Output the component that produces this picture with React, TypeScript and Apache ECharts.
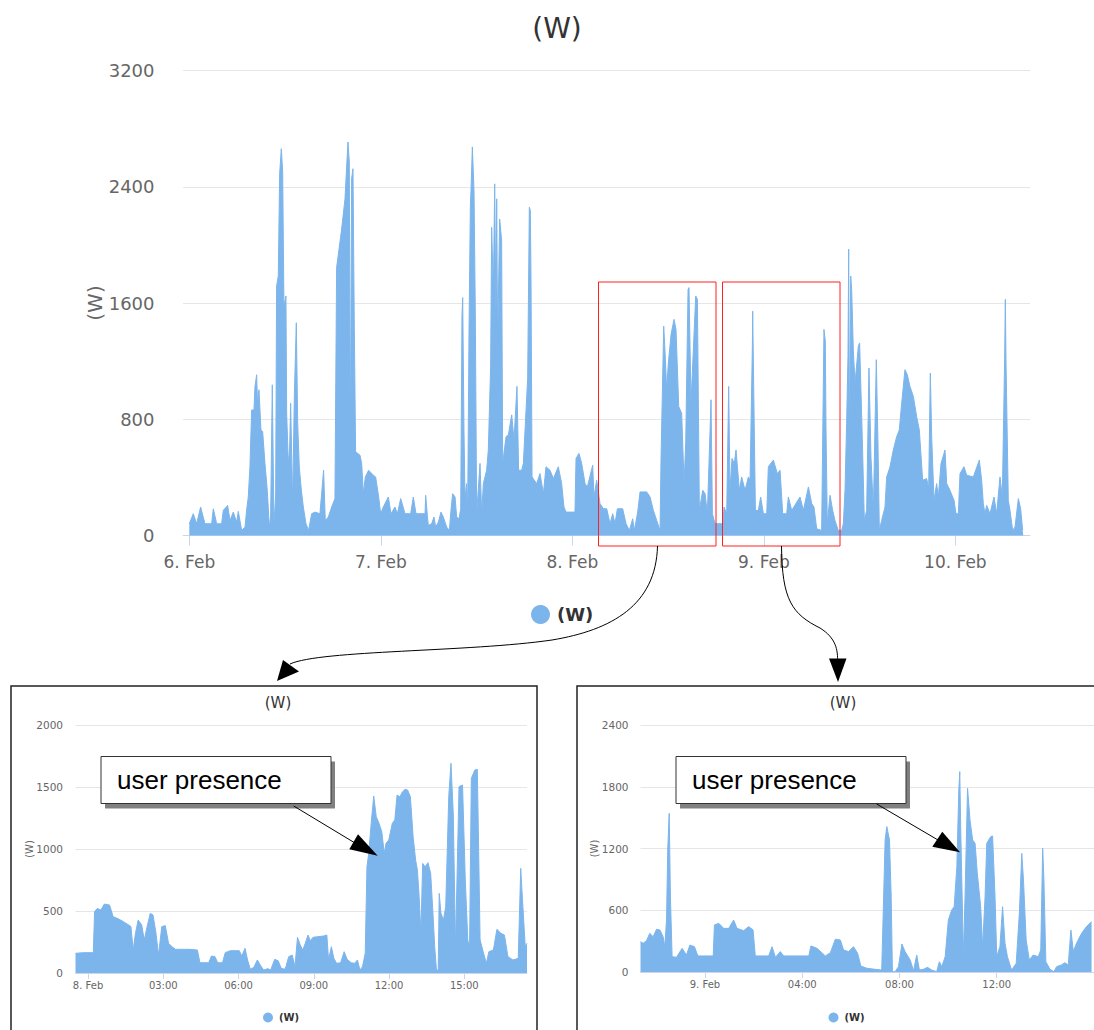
import React, { useEffect, useRef } from "react";
import * as echarts from "echarts";

const FONT = "DejaVu Sans";
const BLUE = "#7cb5ec";

// Main chart: hours since 6 Feb 00:00 and power in W
const mainHours = [
  0.0, 0.5, 0.92, 1.42, 1.96, 2.8, 3.01, 3.43, 4.05, 4.26, 4.8, 5.1, 5.51, 5.93, 6.14, 6.56, 6.98, 7.18, 7.39, 7.6,
  7.81, 8.1, 8.23, 8.44, 8.56, 8.73, 8.98, 9.19, 9.48, 9.77, 10.03, 10.19, 10.4, 10.61, 10.82, 10.94, 11.15, 11.32, 11.53, 11.7,
  11.86, 12.11, 12.2, 12.41, 12.57, 12.7, 12.95, 13.16, 13.41, 13.58, 13.78, 14.04, 14.29, 14.62, 14.95, 15.33, 15.75, 16.37, 16.83, 17.04,
  17.42, 17.84, 18.25, 18.46, 19.09, 19.51, 19.88, 20.05, 20.18, 20.34, 20.51, 20.68, 20.84, 21.39, 21.6, 21.81, 22.06, 22.47, 23.06, 23.35,
  23.73, 23.98, 24.31, 24.94, 25.27, 25.77,
  26.07, 26.49, 27.03, 27.74, 28.07, 28.41, 29.54, 29.62, 29.83, 29.95, 30.37, 30.66, 30.87, 31.21, 31.54, 31.83, 32.25, 32.59, 32.79, 33.0,
  33.3, 33.5, 33.8, 34.01, 34.17, 34.26, 34.42, 34.55, 34.76, 34.88, 35.05, 35.22, 35.3, 35.47, 35.68, 35.84, 36.01, 36.43, 36.64, 36.85,
  37.26, 37.47, 37.76, 37.89, 38.1, 38.27, 38.43, 38.52, 38.64, 38.89, 39.14, 39.27, 39.69, 39.98, 40.4, 40.69, 41.06, 41.27, 41.65, 41.86,
  42.4, 42.61, 42.74, 42.82, 42.95, 43.53, 43.95, 44.37, 44.7, 45.2, 45.62, 46.24, 46.66, 46.95, 47.21, 48.33, 48.46, 48.83, 49.17, 49.59,
  49.88, 50.55, 50.71, 51.05, 51.47,
  51.89, 52.31, 52.72, 53.06, 53.35, 53.64, 54.31, 54.73, 55.15, 55.56, 55.77, 56.19, 56.48, 57.32, 57.74, 58.15, 58.57, 58.99, 59.11, 59.45,
  59.66, 59.82, 60.03, 60.37, 60.74, 60.99, 61.33, 61.7, 62.0, 62.21, 62.5, 62.62, 62.87, 63.46, 63.67, 63.92, 64.34, 64.63, 64.92, 65.38,
  65.55, 65.88, 66.84, 67.01, 67.34, 67.59, 67.76, 68.01, 68.3, 68.51, 68.93, 69.22, 69.64, 70.06, 70.27, 70.56, 70.6, 70.77, 70.94, 71.31,
  71.6, 71.94, 72.36, 72.56, 73.19, 73.69, 74.03, 74.36, 74.86, 75.07, 75.49, 76.53, 76.95, 77.58, 78.0,
  78.28, 78.62, 79.24, 79.53, 79.7, 79.79, 79.95, 80.29, 80.62, 80.91, 81.33, 81.75, 81.96, 82.17, 82.37, 82.54, 82.63, 82.71, 82.79, 82.88,
  83.0, 83.21, 83.42, 83.84, 84.0, 84.34, 84.59, 84.88, 85.17, 85.42, 85.72, 86.09, 86.3, 86.47, 86.76, 87.18, 87.39, 87.81, 88.22, 88.64,
  88.97, 89.27, 89.68, 89.98, 90.31, 90.73, 91.15, 91.48, 91.9, 92.4, 92.65, 92.86, 93.03, 93.32, 93.65, 93.86, 94.2, 94.7, 94.91, 95.32,
  95.83, 96.08, 96.37, 96.58, 97.08, 97.41, 98.25, 99.0, 99.29, 99.5, 99.71, 99.92, 100.34, 100.84, 101.17, 101.59, 101.88, 102.17, 102.26, 102.34,
  102.63, 102.84, 103.18, 103.47, 103.89, 104.18, 104.43, 104.51,
];
const mainWatts = [
  81, 150, 81, 196, 81, 81, 184, 81, 81, 173, 207, 104, 161, 92, 166, 35, 58, 173, 265, 473,
  864, 864, 1026, 1106, 887, 1003, 726, 715, 496, 311, 58, 127, 1037, 81, 265, 1717, 1786, 2489, 2662, 2501,
  1579, 1648, 841, 496, 588, 910, 219, 957, 1464, 772, 473, 311, 196, 81, 35, 150, 161, 150, 449, 104,
  127, 196, 254, 1844, 2109, 2317, 2708, 2570, 611, 2455, 2524, 1418, 576, 553, 496, 288, 403, 449, 415, 403,
  265, 150, 196, 265, 150, 196,
  150, 254, 150, 150, 265, 150, 150, 277, 138, 69, 81, 127, 58, 92, 161, 127, 58, 35, 173, 288,
  265, 127, 115, 184, 1510, 1637, 726, 265, 357, 150, 1406, 2270, 2374, 2674, 2363, 1533, 150, 496, 150, 357,
  449, 588, 1164, 2121, 1671, 2420, 1510, 2317, 1325, 2178, 2028, 496, 680, 692, 830, 657, 1026, 449, 449, 496,
  1083, 2259, 2236, 1763, 403, 357, 426, 288, 473, 449, 392, 473, 357, 196, 161, 161, 530, 565, 496, 357,
  334, 484, 265, 380, 219,
  184, 184, 81, 150, 81, 184, 184, 81, 35, 115, 35, 161, 300, 300, 265, 173, 104, 35, 519, 1441,
  1210, 1003, 1187, 1383, 1487, 1418, 887, 841, 357, 645, 1694, 1706, 910, 1648, 1625, 173, 311, 288, 150, 934,
  150, 81, 81, 196, 150, 1026, 311, 530, 496, 588, 311, 403, 311, 403, 380, 1302, 1544, 841, 173, 173,
  265, 150, 150, 473, 519, 426, 449, 150, 150, 265, 173, 265, 173, 334, 219,
  196, 46, 35, 1418, 1337, 726, 81, 277, 173, 104, 35, 35, 81, 311, 772, 1233, 1971, 496, 1233, 1786,
  1694, 1279, 1049, 1302, 1325, 657, 104, 173, 1153, 542, 173, 1210, 634, 35, 104, 196, 403, 473, 588, 680,
  726, 910, 1141, 1106, 1026, 957, 818, 726, 380, 392, 323, 1118, 680, 242, 357, 265, 496, 588, 357, 311,
  242, 150, 150, 426, 473, 415, 403, 519, 380, 219, 150, 207, 150, 265, 150, 403, 265, 1210, 1625, 1210,
  242, 173, 35, 58, 254, 184, 35, 35,
];
const mainDayTicks = [0, 24, 48, 72, 96];

// Inset 1: hours since 8 Feb 00:00
const feb8Hours = [
  -0.5, -0.18, 0.21, 0.26, 0.37, 0.51, 0.65, 0.86, 1.0, 1.2, 1.41, 1.62, 1.71, 1.8, 1.89, 2.0, 2.14, 2.24, 2.31, 2.48,
  2.59, 2.7, 2.81, 2.94, 3.08, 3.21, 3.35, 3.49, 3.7, 4.04, 4.36, 4.46, 4.81, 4.92, 5.06, 5.17, 5.36, 5.47, 5.67, 6.03,
  6.13, 6.26, 6.36, 6.47, 6.61, 6.75, 6.89, 7.0, 7.17, 7.28, 7.44, 7.58, 7.7, 7.86, 8.0, 8.14, 8.25, 8.35, 8.46, 8.56,
  8.66, 8.77, 8.86, 8.97, 9.17, 9.38, 9.52, 9.59, 9.7, 9.8, 9.91, 10.07, 10.21, 10.33, 10.49, 10.63, 10.74, 10.84, 10.94, 11.05,
  11.12, 11.19, 11.3, 11.39, 11.49, 11.6, 11.71, 11.81, 11.88, 11.99, 12.13, 12.23, 12.32, 12.43, 12.54, 12.64, 12.74, 12.85, 12.96, 13.06,
  13.13, 13.2, 13.27, 13.34, 13.44, 13.55, 13.66, 13.75, 13.82, 13.89, 13.96, 14.0, 14.07, 14.17, 14.26, 14.38, 14.47, 14.56, 14.65, 14.79,
  14.93, 15.04, 15.14, 15.21, 15.28, 15.42, 15.52, 15.63, 15.77, 15.88, 15.98, 16.16, 16.3, 16.46, 16.6, 16.74, 16.94, 17.15, 17.25, 17.32,
  17.43, 17.5,
];
const feb8Watts = [
  159, 164, 164, 495, 521, 508, 556, 548, 454, 438, 414, 387, 374, 185, 320, 427, 387, 266, 333, 481,
  468, 333, 145, 374, 382, 239, 212, 191, 191, 191, 185, 83, 83, 137, 132, 83, 83, 164, 180, 180,
  137, 199, 105, 30, 46, 105, 56, 24, 35, 24, 110, 99, 38, 30, 132, 145, 51, 288, 226, 185,
  239, 306, 261, 288, 293, 298, 306, 105, 212, 118, 78, 83, 172, 110, 83, 78, 105, 24, 51, 159,
  857, 965, 1234, 1427, 1261, 1207, 1140, 965, 1046, 1073, 1207, 1234, 1435, 1422, 1462, 1481, 1476, 1422, 1099, 911,
  831, 616, 320, 884, 857, 890, 804, 481, 212, 24, 24, 642, 481, 427, 535, 1422, 1691, 1288, 212, 1503,
  1516, 750, 266, 199, 1570, 1637, 1642, 266, 159, 78, 172, 185, 352, 320, 306, 132, 105, 118, 844, 589,
  212, 239,
];
const feb8Ticks = [0, 3, 6, 9, 12, 15];

// Inset 2: hours since 9 Feb 00:00
const feb9Hours = [
  -2.65, -2.54, -2.4, -2.27, -2.13, -1.99, -1.85, -1.72, -1.65, -1.58, -1.53, -1.47, -1.42, -1.35, -1.17, -0.94, -0.76, -0.62, -0.43, -0.29,
  -0.05, 0.34, 0.39, 0.57, 0.77, 0.98, 1.18, 1.32, 1.59, 1.8, 1.98, 2.07, 2.62, 2.76, 2.9, 3.1, 3.24, 3.58, 4.27, 4.36,
  4.61, 4.95, 5.16, 5.36, 5.57, 5.7, 5.91, 6.11, 6.28, 6.41, 6.66, 7.0, 7.27, 7.41, 7.48, 7.59, 7.66, 7.71, 7.82, 7.96,
  8.1, 8.23, 8.44, 8.58, 8.71, 8.82, 8.99, 9.15, 9.33, 9.53, 9.64, 9.74, 9.88, 10.01, 10.15, 10.25, 10.36, 10.44, 10.48, 10.52,
  10.63, 10.7, 10.8, 10.9, 11.01, 11.11, 11.2, 11.34, 11.42, 11.52, 11.59, 11.75, 11.83, 11.93, 12.0, 12.13, 12.24, 12.34, 12.44, 12.61,
  12.8, 12.93, 13.03, 13.1, 13.21, 13.34, 13.5, 13.71, 13.81, 13.89, 13.94, 14.02, 14.19, 14.35, 14.46, 14.66, 14.8, 14.94, 15.05, 15.15,
  15.28, 15.49, 15.69, 15.9,
];
const feb9Watts = [
  295, 279, 305, 376, 343, 415, 408, 343, 246, 505, 1186, 1542, 732, 149, 143, 230, 165, 262, 246, 156,
  156, 156, 457, 473, 424, 424, 505, 424, 402, 441, 408, 156, 156, 246, 143, 198, 156, 156, 156, 253,
  230, 156, 188, 318, 311, 214, 198, 246, 181, 58, 36, 26, 19, 1283, 1413, 1283, 732, 3, 3, 52,
  272, 198, 117, 13, 165, 19, 26, 45, 19, 3, 100, 52, 149, 505, 603, 635, 1024, 1769, 1947, 1380,
  149, 765, 1785, 1477, 1283, 1251, 959, 635, 246, 732, 1251, 1315, 1322, 732, 149, 246, 635, 279, 149, 19,
  84, 570, 1153, 894, 311, 117, 165, 149, 214, 1202, 894, 100, 26, 3, 52, 68, 91, 68, 408, 198,
  279, 376, 441, 489,
];
const feb9Ticks = [0, 4, 8, 12];

const pad2 = (n: number) => (n < 10 ? "0" + n : "" + n);

function buildOption() {
  const toPairs = (hs: number[], ws: number[]) => hs.map((h, i) => [h, ws[i]]);
  const series = (data: number[][], idx: number) => ({
    type: "line",
    name: "(W)",
    xAxisIndex: idx,
    yAxisIndex: idx,
    data,
    symbol: "none",
    showSymbol: false,
    lineStyle: { color: BLUE, width: 1 },
    itemStyle: { color: BLUE },
    areaStyle: { color: BLUE, opacity: 1 },
    emphasis: { disabled: true },
  });

  const xAxisBase = (gridIndex: number, min: number, max: number, ticks: number[], fmt: (v: number) => string, fs: number, margin: number, tickLen: number) => ({
    type: "value",
    gridIndex,
    min,
    max,
    splitLine: { show: false },
    axisLine: { show: true, lineStyle: { color: "#ccd6eb", width: 1 } },
    axisTick: { show: true, customValues: ticks, length: tickLen, lineStyle: { color: "#ccd6eb" } },
    axisLabel: { customValues: ticks, formatter: fmt, fontSize: fs, color: "#666", margin, fontFamily: FONT },
  });

  const yAxisBase = (gridIndex: number, max: number, interval: number, fs: number, margin: number, nameSize: number, nameGap: number) => ({
    type: "value",
    gridIndex,
    min: 0,
    max,
    interval,
    name: "(W)",
    nameLocation: "middle",
    nameGap,
    nameMoveOverlap: false,
    nameRotate: 90,
    nameTextStyle: { fontSize: nameSize, color: "#666", fontFamily: FONT },
    axisLine: { show: false },
    axisTick: { show: false },
    splitLine: { lineStyle: { color: "#e6e6e6", width: 1 } },
    axisLabel: { fontSize: fs, color: "#666", margin, fontFamily: FONT, formatter: (v: number) => String(v) },
  });

  const legendItem = (left: number, top: number, size: number, fs: number, padLeft: number) => ({
    data: ["(W)"],
    left,
    top,
    icon: "circle",
    itemWidth: size,
    itemHeight: size,
    selectedMode: false,
    textStyle: { fontSize: fs, fontWeight: "bold", color: "#333", fontFamily: FONT, padding: [0, 0, 0, padLeft] },
  });

  const redBox = (x: number, w: number) => ({
    type: "rect",
    z: 100,
    shape: { x, y: 282, width: w, height: 264 },
    style: { fill: "none", stroke: "#ff2020", lineWidth: 1 },
  });

  const callout = (x: number) => [
    { type: "rect", z: 100, shape: { x: x + 4, y: 761.5, width: 230, height: 47 }, style: { fill: "#808080" } },
    { type: "rect", z: 101, shape: { x, y: 756.5, width: 230, height: 47 }, style: { fill: "#fff", stroke: "#333", lineWidth: 1 } },
    {
      type: "text",
      z: 102,
      style: { text: "user presence", x: x + 16, y: 780, fontSize: 26, fontFamily: "Liberation Sans", fill: "#000", verticalAlign: "middle" },
    },
  ];

  const graphic: any[] = [
    { type: "rect", z: 1, shape: { x: 11, y: 686, width: 526, height: 400 }, style: { fill: "none", stroke: "#222", lineWidth: 1.5 } },
    { type: "rect", z: 1, shape: { x: 577, y: 686, width: 600, height: 400 }, style: { fill: "none", stroke: "#222", lineWidth: 1.5 } },
    redBox(598.5, 117.5),
    redBox(722.5, 117.5),
    // main arrows
    { type: "bezierCurve", z: 100, shape: { x1: 657.5, y1: 546, cpx1: 656, cpy1: 605, cpx2: 612, cpy2: 630, x2: 552, y2: 640 }, style: { stroke: "#000", lineWidth: 1, fill: "none" } },
    { type: "bezierCurve", z: 100, shape: { x1: 552, y1: 640, cpx1: 470, cpy1: 652, cpx2: 320, cpy2: 650, x2: 290, y2: 664 }, style: { stroke: "#000", lineWidth: 1, fill: "none" } },
    { type: "polygon", z: 100, shape: { points: [[283, 660], [299, 671.5], [277, 681]] }, style: { fill: "#000" } },
    { type: "bezierCurve", z: 100, shape: { x1: 781.5, y1: 546, cpx1: 782, cpy1: 600, cpx2: 792, cpy2: 614, x2: 820, y2: 628 }, style: { stroke: "#000", lineWidth: 1, fill: "none" } },
    { type: "bezierCurve", z: 100, shape: { x1: 820, y1: 628, cpx1: 836, cpy1: 638, cpx2: 838, cpy2: 650, x2: 837.5, y2: 662 }, style: { stroke: "#000", lineWidth: 1, fill: "none" } },
    { type: "polygon", z: 100, shape: { points: [[829, 658.5], [846.5, 658.5], [838, 682]] }, style: { fill: "#000" } },
    ...callout(101),
    ...callout(676),
    // callout arrows
    { type: "line", z: 102, shape: { x1: 293.7, y1: 806, x2: 355, y2: 843 }, style: { stroke: "#000", lineWidth: 1 } },
    { type: "polygon", z: 102, shape: { points: [[349.3, 849.3], [358, 834.3], [377.7, 855.7]] }, style: { fill: "#000" } },
    { type: "line", z: 102, shape: { x1: 876.7, y1: 804, x2: 938, y2: 840 }, style: { stroke: "#000", lineWidth: 1 } },
    { type: "polygon", z: 102, shape: { points: [[932.3, 846.7], [942.3, 831.7], [960, 852.3]] }, style: { fill: "#000" } },
  ];

  return {
    animation: false,
    backgroundColor: "#fff",
    textStyle: { fontFamily: FONT },
    title: [
      { text: "(W)", left: 552, top: 9, textAlign: "center", textStyle: { fontSize: 28, fontWeight: "normal", color: "#333", fontFamily: FONT } },
      { text: "(W)", left: 273, top: 690, textAlign: "center", textStyle: { fontSize: 15, fontWeight: "normal", color: "#333", fontFamily: FONT } },
      { text: "(W)", left: 838, top: 690, textAlign: "center", textStyle: { fontSize: 15, fontWeight: "normal", color: "#333", fontFamily: FONT } },
    ],
    legend: [legendItem(526, 600, 19, 18, 2), legendItem(258, 1007.5, 10, 10, 1), legendItem(823.5, 1007.5, 10, 10, 1)],
    grid: [
      { left: 183, top: 70.5, width: 847, height: 465 },
      { left: 75.5, top: 725, width: 451.5, height: 248 },
      { left: 640.5, top: 725, width: 454, height: 247 },
    ],
    xAxis: [
      xAxisBase(0, -0.79, 105.35, mainDayTicks, (v: number) => `${6 + Math.round(v / 24)}. Feb`, 17, 18, 10),
      xAxisBase(1, -0.5, 17.5, feb8Ticks, (v: number) => (v === 0 ? "8. Feb" : `${pad2(Math.round(v))}:00`), 10, 7, 6),
      xAxisBase(2, -2.65, 16.0, feb9Ticks, (v: number) => (v === 0 ? "9. Feb" : `${pad2(Math.round(v))}:00`), 10, 7, 6),
    ],
    yAxis: [
      yAxisBase(0, 3200, 800, 18, 28.5, 20, 78),
      yAxisBase(1, 2000, 500, 10.5, 12.5, 10, 41),
      yAxisBase(2, 2400, 600, 10.5, 12, 10, 41),
    ],
    series: [
      series(toPairs(mainHours, mainWatts), 0),
      series(toPairs(feb8Hours, feb8Watts), 1),
      series(toPairs(feb9Hours, feb9Watts), 2),
    ],
    graphic,
  };
}

export default function App() {
  const ref = useRef<HTMLDivElement>(null);
  useEffect(() => {
    document.body.style.margin = "0";
    if (!ref.current) return;
    const chart = echarts.init(ref.current, undefined, { renderer: "svg" });
    chart.setOption(buildOption() as any);
    return () => chart.dispose();
  }, []);
  return <div ref={ref} style={{ width: 1094, height: 1030 }} />;
}
